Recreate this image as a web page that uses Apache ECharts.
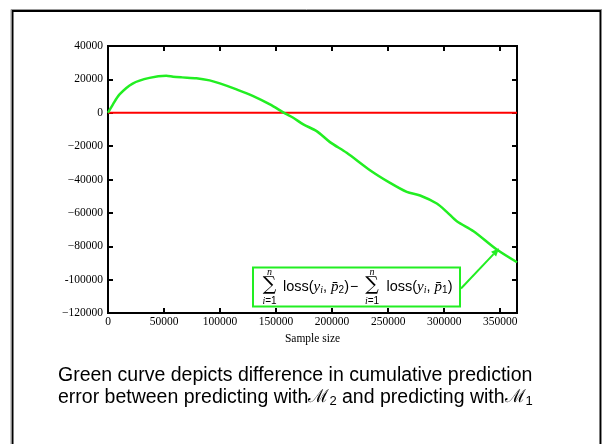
<!DOCTYPE html>
<html>
<head>
<meta charset="utf-8">
<script src="https://cdn.jsdelivr.net/npm/echarts@6/dist/echarts.min.js"></script>
<style>
html, body { margin: 0; padding: 0; background: #fff; }
#chart { width: 602px; height: 444px; }
</style>
</head>
<body>
<div id="chart"></div>
<script>
// data
const sampleSize = [0, 4300, 10300, 22000, 37000, 52000, 58100, 66000, 78900, 90700, 99800, 114700,
    129600, 144500, 157900, 165300, 174300, 186200, 198100, 213000, 233800, 251700, 266600,
    278500, 293400, 302300, 311300, 326200, 347000, 365000];
const lossDiff = [0, 4900, 11000, 17500, 20900, 22200, 21600, 21200, 20700, 19400, 17600, 14000,
    10000, 5000, -400, -3000, -7000, -11000, -17600, -24000, -34400, -42000, -47400,
    -49600, -54400, -59400, -65000, -71000, -82000, -89600];
const zeroLineX = [0, 365000];
const zeroLineY = [0, 0];
const xTicks = [0, 50000, 100000, 150000, 200000, 250000, 300000, 350000];
const yTickText = {
    "40000": "40000", "20000": "20000", "0": "0", "-20000": "\u221220000",
    "-40000": "\u221240000", "-60000": "\u221260000", "-80000": "\u221280000",
    "-100000": "-100000", "-120000": "\u2212120000"
};
const arrowTip = [349000, -81200];

const serif = "'Liberation Serif', 'DejaVu Serif', serif";
const sans = "'Liberation Sans', Arial, sans-serif";
const green = "#22ee22";

const myChart = echarts.init(document.getElementById("chart"));

const tickStyle = { show: true, inside: true, length: 5, lineStyle: { color: "#000", width: 2 } };

const option = {
    animation: false,
    grid: {
        left: 108, top: 46, right: 85, bottom: 131,
        show: true, borderColor: "#000", borderWidth: 2, backgroundColor: "transparent"
    },
    xAxis: [
        {
            type: "value", min: 0, max: 365000, interval: 50000, position: "bottom",
            axisLine: { show: false, onZero: false },
            axisTick: tickStyle,
            splitLine: { show: false },
            axisLabel: {
                color: "#000", fontFamily: serif, fontSize: 11.5, margin: 3,
                showMaxLabel: false,
                formatter: v => (xTicks.indexOf(v) >= 0 ? String(v) : "")
            },
            name: "Sample size", nameLocation: "middle", nameGap: 20,
            nameTextStyle: { color: "#000", fontFamily: serif, fontSize: 11.5 }
        },
        {
            type: "value", min: 0, max: 365000, interval: 50000, position: "top",
            axisLine: { show: false, onZero: false }, axisTick: tickStyle,
            axisLabel: { show: false }, splitLine: { show: false }
        }
    ],
    yAxis: [
        {
            type: "value", min: -120000, max: 40000, interval: 20000, position: "left",
            axisLine: { show: false, onZero: false }, axisTick: tickStyle, splitLine: { show: false },
            axisLabel: {
                color: "#000", fontFamily: serif, fontSize: 11.5, margin: 5,
                formatter: v => yTickText[String(v)] || ""
            }
        },
        {
            type: "value", min: -120000, max: 40000, interval: 20000, position: "right",
            axisLine: { show: false, onZero: false }, axisTick: tickStyle,
            axisLabel: { show: false }, splitLine: { show: false }
        }
    ],
    series: [
        {
            type: "line", name: "zero", xAxisIndex: 0, yAxisIndex: 0,
            data: zeroLineX.map((x, i) => [x, zeroLineY[i]]),
            showSymbol: false, lineStyle: { color: "#ff0000", width: 2 }, z: 2
        },
        {
            type: "line", name: "diff", xAxisIndex: 0, yAxisIndex: 0,
            data: sampleSize.map((x, i) => [x, lossDiff[i]]),
            showSymbol: false, smooth: 0.3,
            lineStyle: { color: green, width: 2.5 }, z: 3
        }
    ]
};
myChart.setOption(option);

// annotation box, arrow, caption and frame
const tip = myChart.convertToPixel({ gridIndex: 0 }, arrowTip);
const box = { x: 253, y: 267.5, w: 207, h: 39 };
const tail = [box.x + box.w + 1, box.y + 21];
const ang = Math.atan2(tip[1] - tail[1], tip[0] - tail[0]);
const headLen = 8, headW = 3.5;
const hb = [tip[0] - headLen * Math.cos(ang), tip[1] - headLen * Math.sin(ang)];
const head = [
    tip,
    [hb[0] + headW * Math.sin(ang), hb[1] - headW * Math.cos(ang)],
    [hb[0] - headW * Math.sin(ang), hb[1] + headW * Math.cos(ang)]
];

const mathRich = {
    t: { fontFamily: sans, fontSize: 14.5, color: "#000" },
    i: { fontFamily: serif, fontStyle: "italic", fontSize: 15, color: "#000" },
    sub: { fontFamily: sans, fontSize: 10, color: "#000", verticalAlign: "bottom", padding: [7, 0, 0, 0] },
    subi: { fontFamily: serif, fontStyle: "italic", fontSize: 10, color: "#000", verticalAlign: "bottom", padding: [7, 0, 0, 0] }
};
const termText = "{t|loss(}{i|y}{subi|i}{t|, }{i|p\u0304}{sub|#}{t|)}";

function sumGroup(cx) {
    return [
        { type: "text", x: cx, y: 285.5, z: 101,
          style: { text: "\u2211", font: "19px 'DejaVu Serif', serif", fill: "#000", align: "center", verticalAlign: "middle" } },
        { type: "text", x: cx, y: 272.5, z: 101,
          style: { text: "n", font: "italic 10px " + serif, fill: "#000", align: "center", verticalAlign: "middle" } },
        { type: "text", x: cx, y: 301.5, z: 101,
          style: { text: "{i|i}{t|=1}", align: "center", verticalAlign: "middle",
              rich: { i: { fontFamily: serif, fontStyle: "italic", fontSize: 10, color: "#000" },
                      t: { fontFamily: sans, fontSize: 10, color: "#000" } } } }
    ];
}

myChart.setOption({
    graphic: [
        { type: "rect", shape: { x: 12.5, y: 11, width: 588, height: 460 },
          style: { fill: "none", stroke: "#000", lineWidth: 2 }, silent: true },
        { type: "rect", shape: { x: 11, y: 9.5, width: 591, height: 463 },
          style: { fill: "none", stroke: "#999", lineWidth: 1 }, silent: true },
        { type: "line", shape: { x1: tail[0], y1: tail[1], x2: hb[0], y2: hb[1] },
          style: { stroke: green, lineWidth: 2 }, z: 100 },
        { type: "polygon", shape: { points: head }, style: { fill: green }, z: 100 },
        { type: "rect", shape: { x: box.x, y: box.y, width: box.w, height: box.h },
          style: { fill: "#fff", stroke: green, lineWidth: 2 }, z: 100 },
        ...sumGroup(269.5),
        { type: "text", x: 283, y: 287, z: 101,
          style: { text: termText.replace("#", "2"), verticalAlign: "middle", rich: mathRich } },
        { type: "text", x: 354, y: 287.5, z: 101,
          style: { text: "\u2212", font: "14px " + sans, fill: "#000", align: "center", verticalAlign: "middle" } },
        ...sumGroup(372),
        { type: "text", x: 386.5, y: 287, z: 101,
          style: { text: termText.replace("#", "1"), verticalAlign: "middle", rich: mathRich } },
        { type: "text", left: 58, top: 366, z: 101,
          style: { text: "Green curve depicts difference in cumulative prediction", font: "19.5px " + sans, fill: "#000" } },
        { type: "text", left: 58, top: 387.5, z: 101,
          style: {
              text: "{a|error between predicting with}{m|\u2133}{s|2}{a| and predicting with}{m|\u2133}{s|1}",
              rich: {
                  a: { fontFamily: sans, fontSize: 19.5, color: "#000" },
                  m: { fontFamily: "'DejaVu Serif', serif", fontSize: 18, color: "#000" },
                  s: { fontFamily: sans, fontSize: 13, color: "#000", verticalAlign: "bottom", padding: [8, 0, 0, 0] }
              }
          } }
    ]
});

window.addEventListener("resize", () => { myChart.resize(); });
</script>
</body>
</html>
